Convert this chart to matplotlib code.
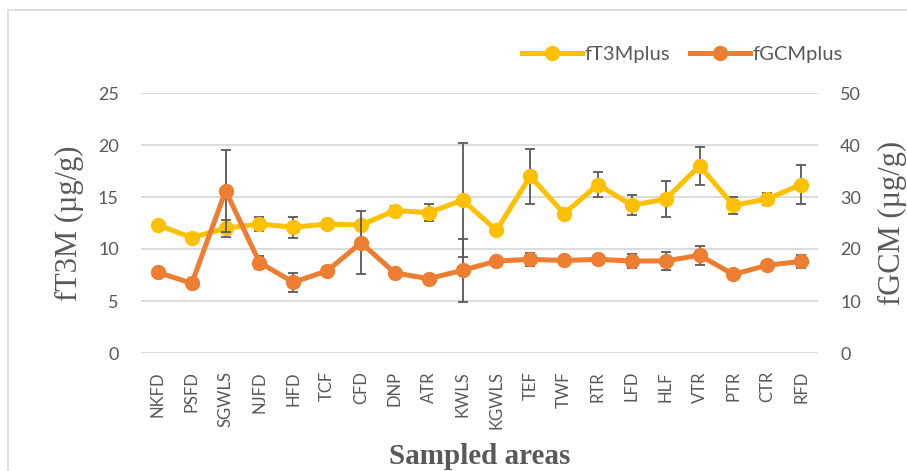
import matplotlib
matplotlib.use("Agg")
import matplotlib.pyplot as plt
from matplotlib.lines import Line2D
from matplotlib.patches import Rectangle

# sampled areas along the x axis
sites = ['NKFD', 'PSFD', 'SGWLS', 'NJFD', 'HFD', 'TCF', 'CFD', 'DNP', 'ATR', 'KWLS',
         'KGWLS', 'TEF', 'TWF', 'RTR', 'LFD', 'HLF', 'VTR', 'PTR', 'CTR', 'RFD']

# fT3M (left axis, ug/g)
ft3m = [12.3, 11.1, 12.0, 12.4, 12.1, 12.4, 12.3, 13.7, 13.5, 14.7,
        11.8, 17.0, 13.4, 16.2, 14.2, 14.8, 18.0, 14.2, 14.8, 16.2]
ft3m_err = [0.0, 0.0, 0.8, 0.7, 1.0, 0.2, 0.2, 0.4, 0.85, 5.5,
            0.0, 2.65, 0.2, 1.2, 0.95, 1.7, 1.85, 0.8, 0.55, 1.85]

# fGCM (right axis, ug/g)
fgcm = [15.5, 13.4, 31.2, 17.4, 13.6, 15.8, 21.2, 15.4, 14.3, 15.9,
        17.7, 18.0, 17.8, 18.0, 17.7, 17.7, 18.8, 15.1, 16.9, 17.6]
fgcm_err = [0.0, 0.0, 7.9, 1.3, 1.85, 0.3, 6.1, 0.6, 0.3, 6.0,
            0.3, 1.3, 0.7, 0.5, 1.3, 1.65, 1.8, 0.0, 0.4, 1.3]

YELLOW = '#FFC000'
ORANGE = '#ED7D31'
GREY = '#595959'
GRID = '#D9D9D9'
TICKFONT = 'Lato'
SERIF = 'Liberation Serif'

fig = plt.figure(figsize=(9.07, 4.71), dpi=100)
ax = fig.add_axes([141 / 907, 1 - 353 / 471, (818 - 141) / 907, (353 - 93) / 471])
ax2 = ax.twinx()

x = list(range(len(sites)))
err_kw = dict(ecolor=GREY, elinewidth=1.3, capsize=3.5, capthick=1.3)

ax.errorbar(x, ft3m, yerr=ft3m_err, color=YELLOW, lw=3.6, marker='o', ms=10,
            zorder=3, **err_kw)
ax2.errorbar(x, fgcm, yerr=fgcm_err, color=ORANGE, lw=3.6, marker='o', ms=10,
             zorder=3, **err_kw)

ax.set_xlim(-0.5, len(sites) - 0.5)
ax.set_ylim(0, 25)
ax2.set_ylim(0, 50)
ax.set_yticks(range(0, 26, 5))
ax2.set_yticks(range(0, 51, 10))
ax.yaxis.grid(True, color=GRID, lw=1.3)
ax.set_axisbelow(True)

for a in (ax, ax2):
    for s in a.spines.values():
        s.set_visible(False)
    a.tick_params(length=0, colors=GREY)

ax.tick_params(axis='y', pad=16, labelsize=13)
ax2.tick_params(axis='y', pad=16, labelsize=13)
for lbl in ax.get_yticklabels() + ax2.get_yticklabels():
    lbl.set_fontfamily(TICKFONT)

ax.set_xticks(x)
ax.set_xticklabels(sites, rotation=90, fontsize=12, family=TICKFONT, color=GREY,
                   va='top', ha='center')
ax.tick_params(axis='x', pad=13)

ax.set_ylabel('fT3M (µg/g)', family=SERIF, fontsize=22, color=GREY, labelpad=10)
ax2.set_ylabel('fGCM (µg/g)', family=SERIF, fontsize=22, color=GREY, labelpad=12)
fig.text(480 / 907, 1 - 457 / 471, 'Sampled areas', family=SERIF, fontsize=21,
         fontweight='bold', color=GREY, ha='center', va='center')

handles = [Line2D([], [], color=YELLOW, lw=3.6, marker='o', ms=10),
           Line2D([], [], color=ORANGE, lw=3.6, marker='o', ms=10)]
leg = fig.legend(handles=handles, labels=['fT3Mplus', 'fGCMplus'], loc='center',
                 bbox_to_anchor=(682 / 907, 1 - 54 / 471), ncol=2, frameon=False,
                 handlelength=3.0, handletextpad=0.1, columnspacing=1.0,
                 prop={'family': TICKFONT, 'size': 14.5})
for t in leg.get_texts():
    t.set_color(GREY)

# outer chart frame
fig.add_artist(Rectangle((8 / 907, -0.1), 1.2, 1.1 - 10 / 471, transform=fig.transFigure,
                         fill=False, ec=GRID, lw=1.2))

fig.savefig('out.png', dpi=100)
